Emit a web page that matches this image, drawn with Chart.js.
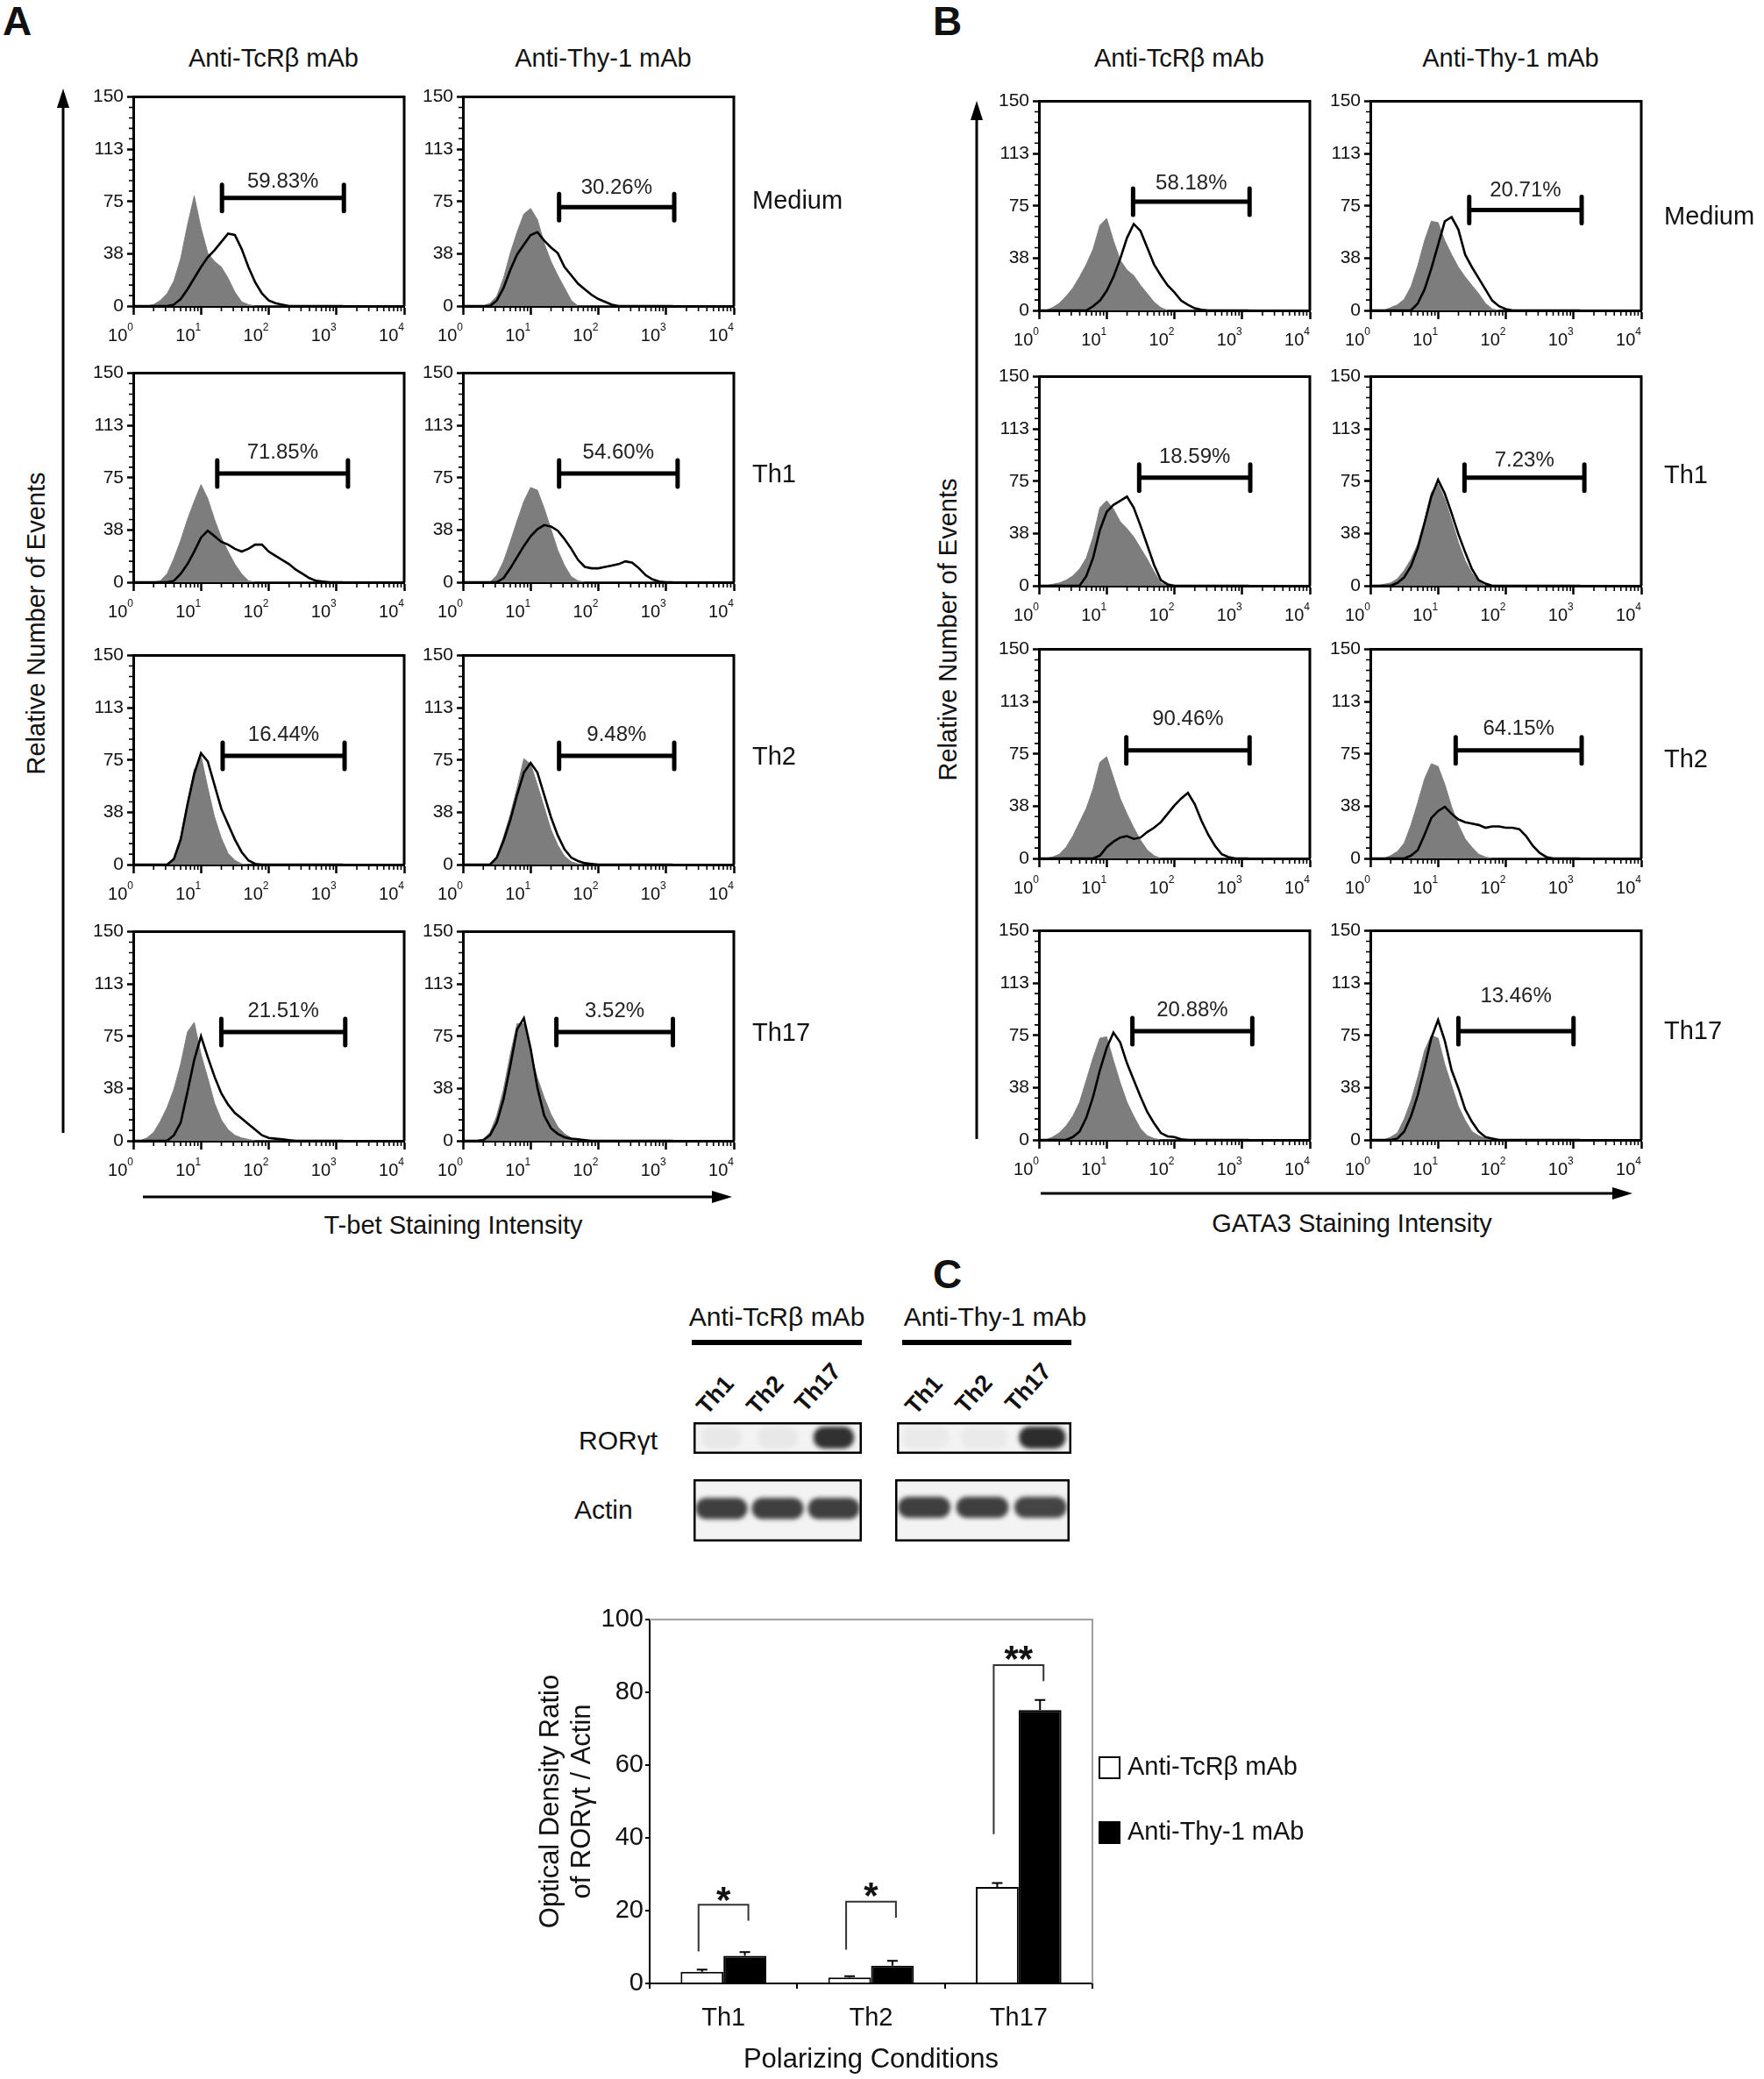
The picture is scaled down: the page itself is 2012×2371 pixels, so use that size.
<!DOCTYPE html>
<html>
<head>
<meta charset="utf-8">
<script src="https://cdn.jsdelivr.net/npm/chart.js@4.4.1/dist/chart.umd.min.js"></script>
<style>
  html, body { margin: 0; padding: 0; background: #fff; }
  body { width: 2012px; height: 2371px; position: relative; overflow: hidden;
         font-family: 'Liberation Sans', Arial, sans-serif; color: #111; }
  canvas { position: absolute; }
  .t { position: absolute; white-space: nowrap; line-height: 1; }
  svg { position: absolute; left: 0; top: 0; }
</style>
</head>
<body>
<svg width="2012" height="2371">
  <g stroke="#000" stroke-width="3" fill="#000">
    <line x1="72" y1="1292" x2="72" y2="118"/><polygon points="72,101 65,123 79,123" stroke="none"/>
    <line x1="1114" y1="1299" x2="1114" y2="132"/><polygon points="1114,115 1107,137 1121,137" stroke="none"/>
    <line x1="163" y1="1365" x2="815" y2="1365"/><polygon points="835,1365 812,1358 812,1372" stroke="none"/>
    <line x1="1187" y1="1361" x2="1842" y2="1361"/><polygon points="1862,1361 1839,1354 1839,1368" stroke="none"/>
  </g>
  <rect x="789" y="1528" width="194" height="6" fill="#000"/>
  <rect x="1029" y="1528" width="193" height="6" fill="#000"/>
</svg>
<script>
// ---- histogram data (log10 intensity grid, event counts) ----
const LOG_X = [0.0,0.1,0.2,0.3,0.4,0.5,0.6,0.7,0.8,0.9,1.0,1.1,1.2,1.3,1.4,1.5,1.6,1.7,1.8,1.9,2.0,2.1,2.2,2.3,2.4,2.5,2.6,2.7,2.8,2.9,3.0,3.1];
const X_TICK_BASE = '10';
const X_TICK_EXP = ['0','1','2','3','4'];
const Y_TICK_LABELS = ['0','38','75','113','150'];
const ROW_NAMES = ['Medium','Th1','Th2','Th17'];
const COL_NAMES = ['Anti-TcR\u03b2 mAb','Anti-Thy-1 mAb'];

// A: T-bet
const tbetTcrMediumIso = [0,0,0,1,4,9,18,34,58,79,56,38,32,28,20,10,3,1,0,0,0,0,0,0,0,0,0,0,0,0,0,0];
const tbetTcrMedium    = [0,0,0,0,0,0,1,5,12,20,28,35,40,46,52,51,41,28,17,9,4,2,1,0,0,0,0,0,0,0,0,0];
const tbetThyMediumIso = [0,0,0,0,2,7,20,38,53,66,70,62,45,32,22,13,4,0,0,0,0,0,0,0,0,0,0,0,0,0,0,0];
const tbetThyMedium    = [0,0,0,0,0,4,13,26,37,44,51,53,47,42,38,28,22,16,12,8,5,3,1,0,0,0,0,0,0,0,0,0];
const tbetTcrTh1Iso    = [0,0,0,0,1,6,17,30,45,58,70,60,45,32,22,13,6,1,0,0,0,0,0,0,0,0,0,0,0,0,0,0];
const tbetTcrTh1       = [0,0,0,0,0,0,1,6,13,22,32,37,33,29,27,24,22,24,27,27,22,19,16,13,9,6,3,1,0.5,0,0,0];
const tbetThyTh1Iso    = [0,0,0,0,0,5,15,29,44,58,68,66,53,38,23,12,4,1,0,0,0,0,0,0,0,0,0,0,0,0,0,0];
const tbetThyTh1       = [0,0,0,0,0,0,3,10,18,26,33,38,41,40,37,31,24,16,11,10,10,11,12,13,15,14,10,5,2,0.5,0,0];
const tbetTcrTh2Iso    = [0,0,0,0,0,0,5,20,45,68,78,55,34,19,8,3,0.5,0,0,0,0,0,0,0,0,0,0,0,0,0,0,0];
const tbetTcrTh2       = [0,0,0,0,0,0,4,18,43,65,80,74,57,40,29,18,9,3,0.5,0,0,0,0,0,0,0,0,0,0,0,0,0];
const tbetThyTh2Iso    = [0,0,0,0,0,6,20,36,55,76,72,57,41,25,14,6,2,0.5,0,0,0,0,0,0,0,0,0,0,0,0,0,0];
const tbetThyTh2       = [0,0,0,0,0,5,17,32,50,66,73,66,50,34,21,11,5,2.5,1,0.5,0,0,0,0,0,0,0,0,0,0,0,0];
const tbetTcrTh17Iso   = [0,0,2,6,14,24,37,55,78,85,62,45,27,15,8,4,2,1,0,0,0,0,0,0,0,0,0,0,0,0,0,0];
const tbetTcrTh17      = [0,0,0,0,0,0,4,13,35,58,75,60,46,34,26,20,16,12,8,4,2,1.5,1,0.5,0,0,0,0,0,0,0,0];
const tbetThyTh17Iso   = [0,0,0,1,6,18,37,62,84,84,62,45,31,19,10,5,2,0,0,0,0,0,0,0,0,0,0,0,0,0,0,0];
const tbetThyTh17      = [0,0,0,0.5,4,13,30,54,80,88,66,38,18,9,5,2.5,1.5,1,0.5,0,0,0,0,0,0,0,0,0,0,0,0,0];

// B: GATA3
const gataTcrMediumIso = [0,0,2,5,10,16,24,33,44,61,66,50,36,29,25,18,12,6,2,0,0,0,0,0,0,0,0,0,0,0,0,0];
const gataTcrMedium    = [0,0,0,0,0,0,0,0,3,7,14,24,37,52,62,57,45,33,25,18,13,7,4,1.5,0.5,0,0,0,0,0,0,0];
const gataThyMediumIso = [0,0,0,2,4,8,17,32,50,64,63,50,40,31,24,18,12,5,1,0,0,0,0,0,0,0,0,0,0,0,0,0];
const gataThyMedium    = [0,0,0,0,0,0,0,5,15,30,47,64,67,58,40,31,23,15,7,3,1,0,0,0,0,0,0,0,0,0,0,0];
const gataTcrTh1Iso    = [0,0,1,2,4,7,12,20,35,56,61,55,46,41,35,27,19,10,2,0,0,0,0,0,0,0,0,0,0,0,0,0];
const gataTcrTh1       = [0,0,0,0,0,0,0,7,20,40,53,58,61,64,56,43,29,15,4,1,0,0,0,0,0,0,0,0,0,0,0,0];
const gataThyTh1Iso    = [0,0,1,2,5,11,19,30,47,67,73,62,47,31,18,9,3,0,0,0,0,0,0,0,0,0,0,0,0,0,0,0];
const gataThyTh1       = [0,0,0,0,2,6,14,27,45,64,76,66,52,37,24,12,4,1.5,0,0,0,0,0,0,0,0,0,0,0,0,0,0];
const gataTcrTh2Iso    = [0,0,1,3,8,16,26,36,50,69,73,58,43,32,22,13,6,2,0,0,0,0,0,0,0,0,0,0,0,0,0,0];
const gataTcrTh2       = [0,0,0,0,0,0,0,0,0,2,8,12,15,16,14,15,19,22,26,32,38,43,47,39,27,17,9,3,1,0,0,0];
const gataThyTh2Iso    = [0,0,0,2,5,11,24,40,57,68,66,53,37,24,14,8,3,1,0,0,0,0,0,0,0,0,0,0,0,0,0,0];
const gataThyTh2       = [0,0,0,0,0,0,2,6,17,29,34,37,32,28,26,25,24,22,23,23,22,22,21,16,9,4,1,0,0,0,0,0];
const gataTcrTh17Iso   = [0,0,2,5,10,17,27,43,59,73,74,57,41,27,17,8,3,1,0,0,0,0,0,0,0,0,0,0,0,0,0,0];
const gataTcrTh17      = [0,0,0,0,0,2,6,16,31,50,66,77,70,55,43,31,20,12,5,2.5,2,0.5,0,0,0,0,0,0,0,0,0,0];
const gataThyTh17Iso   = [0,0,0,2,5,15,28,45,64,75,73,54,39,24,14,6,3,1,0,0,0,0,0,0,0,0,0,0,0,0,0,0];
const gataThyTh17      = [0,0,0,0,1,6,17,32,52,73,86,71,50,37,22,13,6,2,1,0,0,0,0,0,0,0,0,0,0,0,0,0];

// gates (row-major: Medium TcR, Medium Thy, Th1 TcR, ...)
const TBET_PCT    = ['59.83%','30.26%','71.85%','54.60%','16.44%','9.48%','21.51%','3.52%'];
const TBET_GATE_LO = [1.31,1.42,1.24,1.42,1.32,1.42,1.30,1.38];
const TBET_GATE_HI = [3.11,3.12,3.17,3.17,3.12,3.12,3.13,3.10];
const TBET_GATE_Y  = [77.5,71,78,78,78,78,78,78];
const TBET_PCT_Y   = [89,85,93,93,93,93,93,93];
const GATA_PCT    = ['58.18%','20.71%','18.59%','7.23%','90.46%','64.15%','20.88%','13.46%'];
const GATA_GATE_LO = [1.39,1.46,1.48,1.39,1.29,1.26,1.38,1.30];
const GATA_GATE_HI = [3.11,3.12,3.12,3.16,3.11,3.12,3.15,3.00];
const GATA_GATE_Y  = [78,72,77.5,77.5,77.5,77.5,78,78];
const GATA_PCT_Y   = [91,86,92,90,100,93,93,103];

// C: western blot band intensity and densitometry
const LANES = ['Th1','Th2','Th17'];
const ROR_TCR_INT   = [0.05,0.05,0.95];
const ROR_THY_INT   = [0.04,0.04,0.97];
const ACTIN_TCR_INT = [0.88,0.88,0.88];
const ACTIN_THY_INT = [0.88,0.88,0.86];

const COND = ['Th1','Th2','Th17'];
const OD_TCR  = [3.2,1.6,26.5];
const OD_THY  = [7.6,4.9,75.1];
const SEM_TCR = [0.6,0.4,1.1];
const SEM_THY = [1.0,1.3,2.8];
const SIG_LEFT_BASE  = [8.8,9.3,41];
const SIG_RIGHT_BASE = [17.2,18.1,83.1];
const SIG_TOP        = [21.6,22.5,87.5];
const SIG_MARK       = ['*','*','**'];
const SIG_MARK_Y     = [25.3,26.5,91.6];

const FONT = "'Liberation Sans', Arial, sans-serif";
Chart.defaults.font.family = FONT;
Chart.defaults.color = '#111';
Chart.defaults.animation = false;
Chart.defaults.events = [];
Chart.defaults.plugins.legend.display = false;
Chart.defaults.plugins.tooltip.enabled = false;

function makeCanvas(x, y, w, h) {
  const c = document.createElement('canvas');
  c.width = w; c.height = h;
  c.style.left = x + 'px'; c.style.top = y + 'px';
  document.body.appendChild(c);
  return c;
}

function addText(text, x, y, size, opt = {}) {
  const d = document.createElement('div');
  d.className = 't';
  d.textContent = text;
  d.style.left = x + 'px';
  d.style.top = y + 'px';
  d.style.fontSize = size + 'px';
  if (opt.bold) d.style.fontWeight = 'bold';
  if (opt.lane) {
    d.style.top = (y - size) + 'px';
    d.style.transformOrigin = '0 100%';
    d.style.transform = 'rotate(-48deg)';
  } else {
    let tf = opt.left ? 'translate(0,-50%)' : 'translate(-50%,-50%)';
    if (opt.rotate) tf += ' rotate(' + opt.rotate + 'deg)';
    d.style.transform = tf;
  }
  document.body.appendChild(d);
}

const toPoints = vals => vals.map((v, i) => ({ x: LOG_X[i], y: v }));

function histDecor(gate) {
  return {
    id: 'histDecor',
    afterDatasetsDraw(chart) {
      const { ctx, chartArea: a, scales: { x, y } } = chart;
      ctx.save();
      ctx.strokeStyle = '#000';
      ctx.lineWidth = 3;
      ctx.beginPath();
      ctx.moveTo(a.left, a.top); ctx.lineTo(a.right, a.top); ctx.lineTo(a.right, a.bottom);
      ctx.stroke();

      // minor ticks
      ctx.lineWidth = 1.6;
      ctx.beginPath();
      for (let d = 0; d < 4; d++) {
        for (let k = 2; k < 10; k++) {
          const px = x.getPixelForValue(d + Math.log10(k));
          ctx.moveTo(px, a.bottom); ctx.lineTo(px, a.bottom + 6);
        }
      }
      for (let v = 7.5; v < 150; v += 7.5) {
        if (v % 37.5 === 0) continue;
        const py = y.getPixelForValue(v);
        ctx.moveTo(a.left, py); ctx.lineTo(a.left - 5, py);
      }
      ctx.stroke();

      // decade labels 10^n, right-aligned on their tick
      ctx.fillStyle = '#111';
      ctx.textBaseline = 'alphabetic';
      x.ticks.forEach((t, i) => {
        const px = x.getPixelForValue(t.value);
        ctx.font = '12px ' + FONT;
        ctx.textAlign = 'right';
        ctx.fillText(X_TICK_EXP[i], px, a.bottom + 28);
        const ew = ctx.measureText(X_TICK_EXP[i]).width;
        ctx.font = '20px ' + FONT;
        ctx.fillText(X_TICK_BASE, px - ew, a.bottom + 40);
      });

      // gate marker
      const x0 = x.getPixelForValue(gate.lo), x1 = x.getPixelForValue(gate.hi);
      const gy = y.getPixelForValue(gate.y);
      ctx.lineWidth = 5;
      ctx.beginPath(); ctx.moveTo(x0, gy); ctx.lineTo(x1, gy); ctx.stroke();
      ctx.lineCap = 'round';
      ctx.lineWidth = 5;
      ctx.beginPath();
      ctx.moveTo(x0, gy - 15); ctx.lineTo(x0, gy + 15);
      ctx.moveTo(x1, gy - 15); ctx.lineTo(x1, gy + 15);
      ctx.stroke();
      ctx.fillStyle = '#222';
      ctx.font = '24px ' + FONT;
      ctx.textAlign = 'center';
      ctx.textBaseline = 'middle';
      ctx.fillText(gate.label, (x0 + x1) / 2, y.getPixelForValue(gate.labelY));
      ctx.restore();
    }
  };
}

function drawHistogram(left, top, iso, stain, gate) {
  const cv = makeCanvas(left - 66, top - 14, 403, 307);
  new Chart(cv, {
    type: 'line',
    data: {
      datasets: [
        { data: toPoints(stain), borderColor: '#000', borderWidth: 2.6, pointRadius: 0,
          fill: false, tension: 0, order: 0 },
        { data: toPoints(iso), borderColor: '#7d7d7d', backgroundColor: '#7d7d7d', borderWidth: 1,
          pointRadius: 0, fill: 'origin', tension: 0, order: 1 }
      ]
    },
    options: {
      responsive: false,
      layout: { padding: { left: 0, top: 14, right: 28, bottom: 0 } },
      scales: {
        x: {
          type: 'linear', min: 0, max: 4,
          afterFit: s => { s.height = 52; },
          ticks: { stepSize: 1, autoSkip: false, maxRotation: 0, callback: () => '' },
          grid: { drawOnChartArea: false, tickLength: 10, tickWidth: 2.5, tickColor: '#000' },
          border: { color: '#000', width: 3 }
        },
        y: {
          min: 0, max: 150,
          afterFit: s => { s.width = 66; },
          ticks: { stepSize: 37.5, autoSkip: false, padding: 4, color: '#111',
                   font: { size: 21 }, callback: (v, i) => Y_TICK_LABELS[i] },
          grid: { drawOnChartArea: false, tickLength: 7, tickWidth: 2.5, tickColor: '#000' },
          border: { color: '#000', width: 3 }
        }
      }
    },
    plugins: [histDecor(gate)]
  });
}

// ---- panel A and B histograms ----
const TBET_ISO   = [tbetTcrMediumIso, tbetThyMediumIso, tbetTcrTh1Iso, tbetThyTh1Iso, tbetTcrTh2Iso, tbetThyTh2Iso, tbetTcrTh17Iso, tbetThyTh17Iso];
const TBET_STAIN = [tbetTcrMedium, tbetThyMedium, tbetTcrTh1, tbetThyTh1, tbetTcrTh2, tbetThyTh2, tbetTcrTh17, tbetThyTh17];
const GATA_ISO   = [gataTcrMediumIso, gataThyMediumIso, gataTcrTh1Iso, gataThyTh1Iso, gataTcrTh2Iso, gataThyTh2Iso, gataTcrTh17Iso, gataThyTh17Iso];
const GATA_STAIN = [gataTcrMedium, gataThyMedium, gataTcrTh1, gataThyTh1, gataTcrTh2, gataThyTh2, gataTcrTh17, gataThyTh17];

const panels = [
  { cols: [152, 528], rows: [108, 423, 745, 1060], iso: TBET_ISO, stain: TBET_STAIN,
    pct: TBET_PCT, lo: TBET_GATE_LO, hi: TBET_GATE_HI, gy: TBET_GATE_Y, py: TBET_PCT_Y,
    rowLabelX: 858, rowLabelY: [228, 540, 862, 1177] },
  { cols: [1185, 1563], rows: [113, 427, 738, 1059], iso: GATA_ISO, stain: GATA_STAIN,
    pct: GATA_PCT, lo: GATA_GATE_LO, hi: GATA_GATE_HI, gy: GATA_GATE_Y, py: GATA_PCT_Y,
    rowLabelX: 1898, rowLabelY: [246, 541, 865, 1175] }
];

panels.forEach(p => {
  p.rows.forEach((top, r) => {
    p.cols.forEach((left, c) => {
      const k = r * 2 + c;
      drawHistogram(left, top, p.iso[k], p.stain[k],
        { lo: p.lo[k], hi: p.hi[k], y: p.gy[k], label: p.pct[k], labelY: p.py[k] });
    });
    addText(ROW_NAMES[r], p.rowLabelX, p.rowLabelY[r], 29, { left: true });
  });
  p.cols.forEach((left, c) => addText(COL_NAMES[c], left + 160, 66, 29));
});

addText('A', 3, 24, 46, { left: true, bold: true });
addText('B', 1064, 24, 46, { left: true, bold: true });
addText('C', 1064, 1453, 46, { left: true, bold: true });
addText('Relative Number of Events', 41, 711, 29, { rotate: -90 });
addText('Relative Number of Events', 1081, 718, 29, { rotate: -90 });
addText('T-bet Staining Intensity', 517, 1397, 29);
addText('GATA3 Staining Intensity', 1542, 1395, 29);

// ---- panel C: blots ----
addText(COL_NAMES[0], 886, 1502, 30);
addText(COL_NAMES[1], 1135, 1502, 30);
[[810, 1618], [867, 1618], [922, 1615]].forEach((pt, i) => addText(LANES[i], pt[0], pt[1], 27, { lane: true, bold: true }));
[[1048, 1618], [1105, 1617], [1162, 1615]].forEach((pt, i) => addText(LANES[i], pt[0], pt[1], 27, { lane: true, bold: true }));
addText('ROR\u03b3t', 660, 1643, 30, { left: true });
addText('Actin', 655, 1722, 30, { left: true });

const blotStyle = {
  id: 'blotStyle',
  beforeDatasetsDraw(chart) {
    const { ctx, chartArea: a } = chart;
    ctx.save();
    ctx.fillStyle = '#f3f3f3';
    ctx.fillRect(a.left, a.top, a.right - a.left, a.bottom - a.top);
    ctx.filter = 'blur(2.5px)';
  },
  afterDatasetsDraw(chart) {
    const { ctx, chartArea: a } = chart;
    ctx.restore();
    ctx.save();
    ctx.strokeStyle = '#000';
    ctx.lineWidth = 2.5;
    ctx.strokeRect(a.left + 1.25, a.top + 1.25, a.right - a.left - 2.5, a.bottom - a.top - 2.5);
    ctx.restore();
  }
};

function drawBlot(x, y, w, h, intensity, band, barPct) {
  const cv = makeCanvas(x, y, w, h);
  new Chart(cv, {
    type: 'bar',
    data: {
      labels: LANES,
      datasets: [{
        data: intensity.map(() => band),
        backgroundColor: intensity.map(v => 'rgba(38,38,38,' + v + ')'),
        borderWidth: 0, borderSkipped: false, borderRadius: 12,
        barPercentage: barPct, categoryPercentage: 1
      }]
    },
    options: {
      responsive: false,
      layout: { padding: 0 },
      scales: { x: { display: false }, y: { display: false, min: 0, max: 1 } }
    },
    plugins: [blotStyle]
  });
}

drawBlot(791, 1622, 192, 36, ROR_TCR_INT, [0.17, 0.86], 0.72);
drawBlot(1023, 1622, 199, 36, ROR_THY_INT, [0.17, 0.86], 0.8);
drawBlot(791, 1687, 192, 71, ACTIN_TCR_INT, [0.36, 0.70], 0.92);
drawBlot(1021, 1687, 199, 71, ACTIN_THY_INT, [0.38, 0.72], 0.9);

// ---- panel C: densitometry bar chart ----
const odDecor = {
  id: 'odDecor',
  afterDatasetsDraw(chart) {
    const { ctx, chartArea: a, scales: { y } } = chart;
    const m0 = chart.getDatasetMeta(0), m1 = chart.getDatasetMeta(1);
    ctx.save();
    ctx.strokeStyle = '#a0a0a0';
    ctx.lineWidth = 2;
    ctx.beginPath();
    ctx.moveTo(a.left, a.top); ctx.lineTo(a.right, a.top); ctx.lineTo(a.right, a.bottom);
    ctx.stroke();

    ctx.strokeStyle = '#000';
    ctx.lineWidth = 2;
    [[m0, OD_TCR, SEM_TCR], [m1, OD_THY, SEM_THY]].forEach(([m, vals, errs]) => {
      m.data.forEach((bar, i) => {
        const top = y.getPixelForValue(vals[i]);
        const hi = y.getPixelForValue(vals[i] + errs[i]);
        ctx.beginPath();
        ctx.moveTo(bar.x, top); ctx.lineTo(bar.x, hi);
        ctx.moveTo(bar.x - 6, hi); ctx.lineTo(bar.x + 6, hi);
        ctx.stroke();
      });
    });

    ctx.strokeStyle = '#333';
    ctx.fillStyle = '#111';
    ctx.font = 'bold 42px ' + FONT;
    ctx.textAlign = 'center';
    ctx.textBaseline = 'alphabetic';
    COND.forEach((c, i) => {
      const xl = m0.data[i].x - 4, xr = m1.data[i].x + 4;
      const yt = y.getPixelForValue(SIG_TOP[i]);
      ctx.beginPath();
      ctx.moveTo(xl, y.getPixelForValue(SIG_LEFT_BASE[i]));
      ctx.lineTo(xl, yt); ctx.lineTo(xr, yt);
      ctx.lineTo(xr, y.getPixelForValue(SIG_RIGHT_BASE[i]));
      ctx.stroke();
      ctx.fillText(SIG_MARK[i], (xl + xr) / 2, y.getPixelForValue(SIG_MARK_Y[i]) + 24);
    });
    ctx.restore();
  },
  afterDraw(chart) {
    const { ctx, chartArea: a } = chart;
    ctx.save();
    ctx.font = '29px ' + FONT;
    ctx.textBaseline = 'middle';
    chart.data.datasets.forEach((ds, i) => {
      const cy = a.top + 169 + i * 74;
      ctx.fillStyle = ds.backgroundColor;
      ctx.fillRect(a.right + 8, cy - 12, 23, 24);
      ctx.strokeStyle = '#000';
      ctx.lineWidth = 2;
      ctx.strokeRect(a.right + 8, cy - 12, 23, 24);
      ctx.fillStyle = '#111';
      ctx.fillText(ds.label, a.right + 40, cy);
    });
    ctx.restore();
  }
};

new Chart(makeCanvas(580, 1800, 960, 571), {
  type: 'bar',
  data: {
    labels: COND,
    datasets: [
      { label: COL_NAMES[0], data: OD_TCR, backgroundColor: '#ffffff', borderColor: '#000',
        borderWidth: 2, barPercentage: 1, categoryPercentage: 0.58 },
      { label: COL_NAMES[1], data: OD_THY, backgroundColor: '#000000', borderColor: '#000',
        borderWidth: 2, barPercentage: 1, categoryPercentage: 0.58 }
    ]
  },
  options: {
    responsive: false,
    layout: { padding: { left: 0, top: 47, right: 294, bottom: 0 } },
    scales: {
      x: {
        afterFit: s => { s.height = 109; },
        ticks: { font: { size: 29 }, color: '#111', padding: 17 },
        grid: { drawOnChartArea: false, offset: true, tickLength: 6, color: '#000', lineWidth: 2 },
        border: { color: '#000', width: 2 },
        title: { display: true, text: 'Polarizing Conditions', font: { size: 31 }, color: '#111',
                 padding: { top: 0, bottom: 3 } }
      },
      y: {
        min: 0, max: 100,
        afterFit: s => { s.width = 161; },
        ticks: { stepSize: 20, font: { size: 29 }, color: '#111', padding: 2 },
        grid: { drawOnChartArea: false, tickLength: 5, color: '#000', lineWidth: 2 },
        border: { color: '#000', width: 2 },
        title: { display: true, text: ['Optical Density Ratio', 'of ROR\u03b3t / Actin'],
                 font: { size: 31, lineHeight: 1.15 }, color: '#111', padding: { top: 31, bottom: 0 } }
      }
    }
  },
  plugins: [odDecor]
});
</script>
</body>
</html>
